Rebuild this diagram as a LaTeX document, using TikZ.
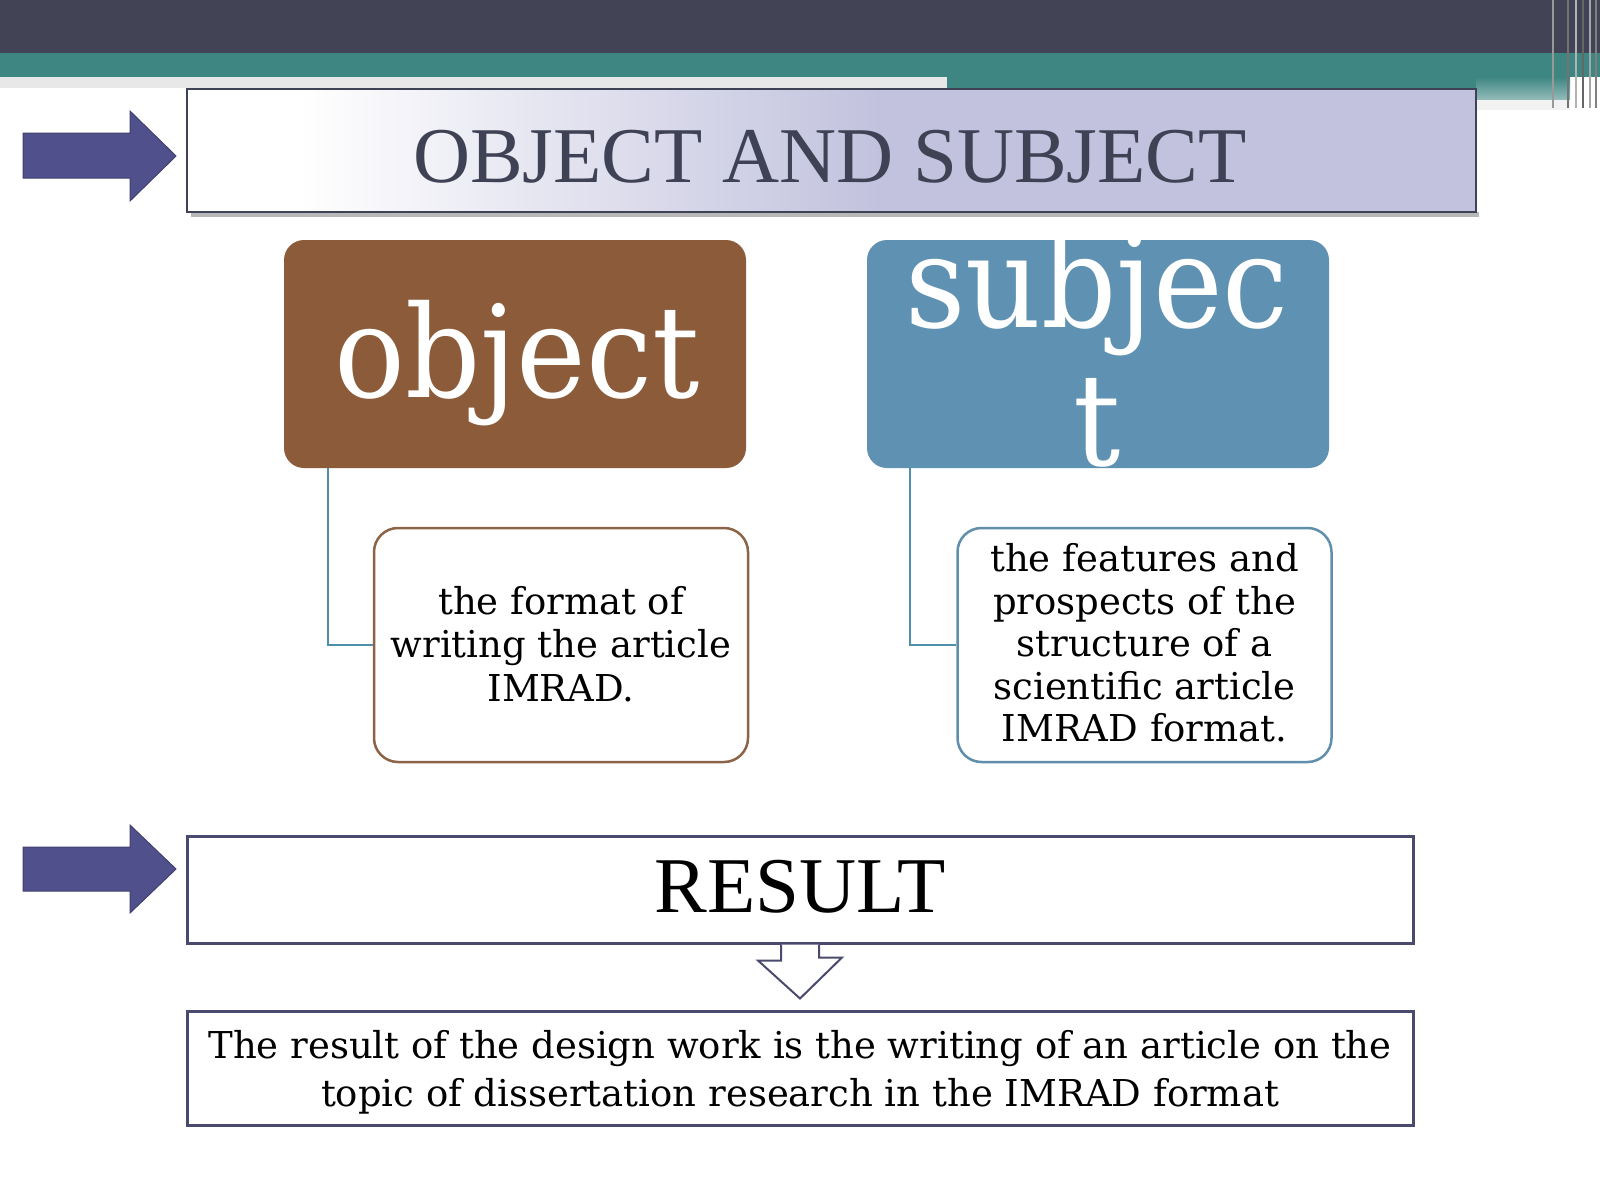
\documentclass[tikz,border=0pt]{standalone}
\usepackage{fontspec}
\setmainfont{DejaVu Serif}
\newfontfamily\ttlfont{Liberation Serif}
\newfontfamily\bigfont[FakeStretch=0.92]{DejaVu Serif}
\definecolor{darkband}{HTML}{424455}
\definecolor{tealband}{HTML}{3E8682}
\definecolor{ttltext}{HTML}{3F4254}
\definecolor{lav}{HTML}{C2C2DE}
\definecolor{arrowc}{HTML}{50508C}
\definecolor{brownc}{HTML}{8C5C3A}
\definecolor{bluec}{HTML}{5F91B2}
\definecolor{connc}{HTML}{4F8FA9}
\definecolor{brownedge}{HTML}{8C6448}
\definecolor{blueedge}{HTML}{5F8FAA}
\definecolor{boxedge}{HTML}{4A4A6E}
\tikzset{
  bigbox/.style={draw=none, rounded corners=20pt, minimum width=462pt, minimum height=228pt, inner sep=0pt},
  childbox/.style={fill=white, line width=2.5pt, rounded corners=24pt, minimum width=374pt, minimum height=234pt, inner sep=0pt},
  childtext/.style={align=center, font=\fontsize{37}{43.5}\selectfont, text=black},
  bigtext/.style={anchor=base, text=white, font=\bigfont\fontsize{128}{138}\selectfont},
  conn/.style={draw=connc, line width=2pt},
  blockarrow/.style={fill=arrowc, draw=arrowc!80!black, line width=1pt},
  resbox/.style={draw=boxedge, line width=3pt, fill=white, minimum width=1226pt, inner sep=0pt}
}
\begin{document}
\begin{tikzpicture}[x=1pt,y=-1pt]
\useasboundingbox (0,0) rectangle (1600,1200);
\fill[white] (0,0) rectangle (1600,1200);
% top bands
\fill[darkband] (0,0) rectangle (1600,53);
\fill[tealband] (0,53) rectangle (1600,77);
\fill[tealband] (947,77) rectangle (1476,90);
\shade[top color=tealband, bottom color=tealband!55!white] (1476,77) rectangle (1570,100);
\fill[black!9] (0,77) rectangle (947,88);
\fill[black!5] (1476,100) rectangle (1570,110);
% right edge lines
\foreach \xx/\cc in {1553/black!40, 1568/black!55, 1576/black!30, 1583/black!60, 1590/black!35, 1596/black!50}
  \draw[\cc, line width=1.5pt] (\xx,0) -- (\xx,108);
% title box
\fill[black!28] (191,212) rectangle (1479,217);
\fill[lav] (187,89) rectangle (1476,212);
\shade[left color=white, right color=lav] (300,89) rectangle (880,212);
\fill[white] (187,89) rectangle (300,212);
\node[draw=ttltext, line width=1.5pt, minimum width=1289pt, minimum height=123pt, inner sep=0pt] (title) at (831.5,150.5) {};
\node[anchor=base, text=ttltext, font=\ttlfont\fontsize{79}{90}\selectfont] (titletxt) at (830,182) {OBJECT AND SUBJECT};
% left arrows
\fill[blockarrow] (23,133) -- (130,133) -- (130,111) -- (176,156) -- (130,201) -- (130,178) -- (23,178) -- cycle;
\fill[blockarrow] (23,847) -- (130,847) -- (130,825) -- (176,869) -- (130,913) -- (130,891) -- (23,891) -- cycle;
% main boxes
\node[bigbox, fill=brownc] (obj) at (515,354) {};
\node[bigbox, fill=bluec] (subj) at (1098,354) {};
\node[bigtext] (objtxt) at (517,397) {object};
\node[bigtext] (subjtxt1) at (1097,327) {subjec};
\node[bigtext] (subjtxt2) at (1097,465) {t};
% child boxes
\node[childbox, draw=brownedge] (c1) at (561,645) {};
\node[childtext] (c1txt) at (561,644) {the format of\\writing the article\\IMRAD.};
\node[childbox, draw=blueedge] (c2) at (1144.5,645) {};
\node[childtext, font=\fontsize{37}{42.5}\selectfont] (c2txt) at (1144.5,643) {the features and\\prospects of the\\structure of a\\scientific article\\IMRAD format.};
% connectors
\draw[conn] ([xshift=44pt]obj.south west) |- (c1.west);
\draw[conn] ([xshift=43pt]subj.south west) |- (c2.west);
% result
\node[resbox, minimum height=107pt] (res) at (800,889.5) {};
\node[anchor=base, text=black, font=\ttlfont\fontsize{79}{88}\selectfont] (restxt) at (800,912) {RESULT};
\node[resbox, minimum height=114pt] (out) at (800,1068) {};
\node[align=center, font=\fontsize{37}{48}\selectfont] (outtxt) at (800,1072) {The result of the design work is the writing of an article on the\\topic of dissertation research in the IMRAD format};
% down arrow
\draw[draw=boxedge, fill=white, line width=2pt, line join=miter]
  ([xshift=-19pt]res.south) -- ++(0,16) -- ++(-23,0) -- ([yshift=11pt]out.north) -- ++(42,-41) -- ++(-23,0) -- ([xshift=19pt]res.south);
\end{tikzpicture}
\end{document}
